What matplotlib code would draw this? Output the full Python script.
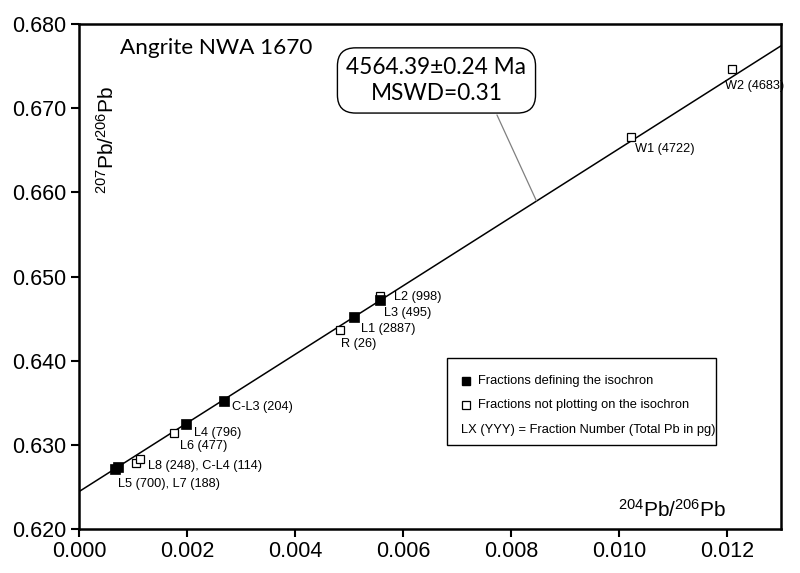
import numpy as np
import matplotlib
matplotlib.use("Agg")
import matplotlib.pyplot as plt
from matplotlib.patches import Rectangle
from matplotlib.ticker import FormatStrFormatter

plt.rcParams["font.family"] = ["Liberation Sans", "DejaVu Sans"]
plt.rcParams["mathtext.fontset"] = "custom"
plt.rcParams["mathtext.rm"] = "Liberation Sans"
plt.rcParams["mathtext.it"] = "Liberation Sans:italic"
plt.rcParams["mathtext.bf"] = "Liberation Sans:bold"

# --- Data: 204Pb/206Pb vs 207Pb/206Pb fractions ---
filled_names = ["L5", "L7", "L4", "C-L3", "L1", "L3"]
filled_x = [0.00067, 0.00073, 0.00199, 0.00268, 0.00509, 0.00557]
filled_y = [0.62711, 0.62734, 0.63246, 0.63524, 0.64520, 0.64726]

open_names = ["L8", "C-L4", "L6", "R", "L2", "W1", "W2"]
open_x = [0.00105, 0.00113, 0.00176, 0.00484, 0.00557, 0.01023, 0.01209]
open_y = [0.62789, 0.62833, 0.63139, 0.64360, 0.64770, 0.66658, 0.67461]

# isochron fit
iso_intercept = 0.62444
iso_slope = 4.075
iso_x = [0.0, 0.013]

# labels: (text, anchor x, anchor y, dx px, dy px)
labels = [
    ("W2 (4683)", 0.01209, 0.67461, -7, -17),
    ("W1 (4722)", 0.01023, 0.66658, 4, -12),
    ("L2 (998)", 0.00557, 0.64770, 14, -1),
    ("L3 (495)", 0.00557, 0.64726, 4, -13),
    ("L1 (2887)", 0.00509, 0.64520, 7, -12),
    ("R (26)", 0.00484, 0.64360, 1, -14),
    ("C-L3 (204)", 0.00268, 0.63524, 8, -6),
    ("L4 (796)", 0.00199, 0.63246, 8, -9),
    ("L6 (477)", 0.00176, 0.63139, 6, -13),
    ("L8 (248), C-L4 (114)", 0.00105, 0.62789, 12, -3),
    ("L5 (700), L7 (188)", 0.00067, 0.62711, 3, -15),
]

fig = plt.figure(figsize=(8.0, 5.73), dpi=100)
ax = fig.add_axes([0.09875, 0.0768, 0.8775, 0.8812])

line_x = np.array(iso_x)
ax.plot(line_x, iso_intercept + iso_slope * line_x, color="black", lw=1.1, zorder=2)

ax.plot(open_x, open_y, "s", ms=6.2, mfc="white", mec="black", mew=0.9, zorder=3)
ax.plot(filled_x, filled_y, "s", ms=6.6, mfc="black", mec="black", mew=0.5, zorder=4)

for txt, x, y, dx, dy in labels:
    ax.annotate(txt, xy=(x, y), xytext=(dx, dy), textcoords="offset pixels",
                fontsize=9.2, ha="left", va="center")

ax.set_xlim(0, 0.013)
ax.set_ylim(0.620, 0.680)
ax.set_xticks(np.arange(0, 0.0121, 0.002))
ax.set_yticks(np.arange(0.620, 0.6801, 0.010))
ax.xaxis.set_major_formatter(FormatStrFormatter("%.3f"))
ax.yaxis.set_major_formatter(FormatStrFormatter("%.3f"))
ax.tick_params(direction="out", length=6, width=1.5, labelsize=15.5, pad=3)
for s in ax.spines.values():
    s.set_linewidth(1.8)

# axis labels inside the frame
ax.text(0.845, 0.038, r"$^{204}$Pb/$^{206}$Pb", transform=ax.transAxes,
        fontsize=15, ha="center", va="center")
ax.text(0.040, 0.770, r"$^{207}$Pb/$^{206}$Pb", transform=ax.transAxes,
        fontsize=15, ha="center", va="center", rotation=90)

ax.text(0.058, 0.952, "Angrite NWA 1670", transform=ax.transAxes,
        fontsize=16.2, family=["Lato", "DejaVu Sans"], ha="left", va="center")

# leader from age box to isochron
ax.annotate("", xy=(0.00847, 0.6590), xytext=(0.00774, 0.6692),
            arrowprops=dict(arrowstyle="-", color="gray", lw=0.9,
                            shrinkA=0, shrinkB=0), zorder=2)

# age box
ax.text(0.00662, 0.6733, "4564.39\u00b10.24 Ma\nMSWD=0.31", fontsize=16.3,
        family=["Lato", "DejaVu Sans"], ha="center", va="center", linespacing=1.3,
        bbox=dict(boxstyle="round,pad=0.4,rounding_size=0.8", fc="white",
                  ec="black", lw=1.0), zorder=6)

# legend box
ax.add_patch(Rectangle((0.5237, 0.1665), 0.3832, 0.1717, transform=ax.transAxes,
                       fc="white", ec="black", lw=1.0, zorder=5))
ax.plot([0.5507], [0.2939], "s", ms=6.2, mfc="black", mec="black",
        transform=ax.transAxes, zorder=6, clip_on=False)
ax.plot([0.5507], [0.2455], "s", ms=6.0, mfc="white", mec="black", mew=0.9,
        transform=ax.transAxes, zorder=6, clip_on=False)
ax.text(0.5685, 0.2939, "Fractions defining the isochron", transform=ax.transAxes,
        fontsize=9.3, va="center", zorder=6)
ax.text(0.5685, 0.2455, "Fractions not plotting on the isochron", transform=ax.transAxes,
        fontsize=9.3, va="center", zorder=6)
ax.text(0.5437, 0.1960, "LX (YYY) = Fraction Number (Total Pb in pg)",
        transform=ax.transAxes, fontsize=9.3, va="center", zorder=6)

fig.savefig("out.png", dpi=100)
